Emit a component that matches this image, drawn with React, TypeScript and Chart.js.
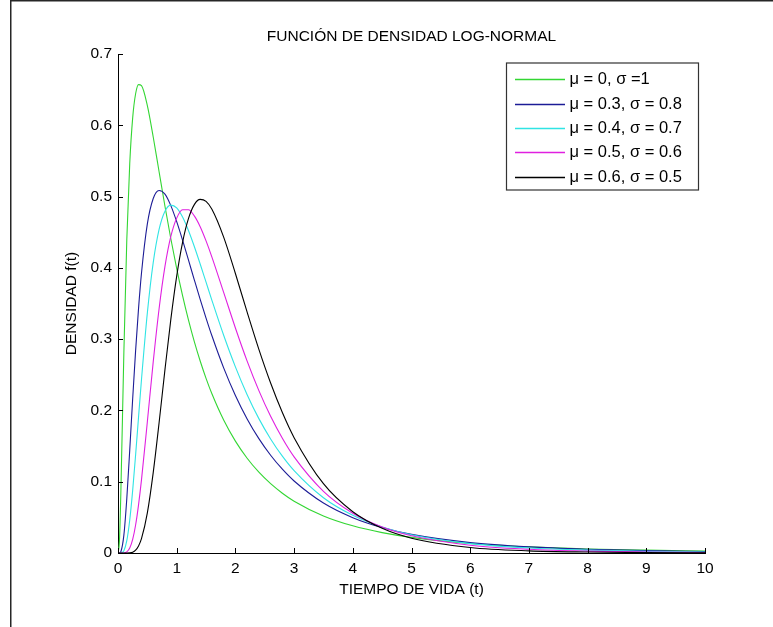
import React, { useEffect, useRef } from "react";
import { Chart, registerables } from "chart.js";

Chart.register(...registerables);

// ---- Data ----
const T = [0, 0.025, 0.05, 0.1, 0.15, 0.2, 0.25, 0.3, 0.35, 0.4, 0.5, 0.6, 0.7, 0.8, 0.9, 1.0, 1.1, 1.2, 1.3, 1.4, 1.5, 1.6, 1.8, 2.0, 2.2, 2.4, 2.6, 2.8, 3.0, 3.5, 4, 4.5, 5, 6, 7, 8, 9, 10];

const MU0_S10 = [0, 0.0177, 0.0898, 0.2816, 0.4399, 0.5464, 0.6104, 0.6442, 0.6570, 0.6555, 0.6276, 0.5836, 0.5348, 0.4864, 0.4408, 0.3989, 0.3610, 0.3270, 0.2965, 0.2693, 0.2450, 0.2233, 0.1865, 0.1569, 0.1329, 0.1133, 0.0972, 0.0839, 0.0727, 0.0520, 0.0381, 0.0286, 0.0219, 0.0134, 0.0086, 0.0057, 0.0040, 0.0028];
const MU03_S08 = [0, 0, 0.0021, 0.0251, 0.0765, 0.1445, 0.2163, 0.2839, 0.3432, 0.3925, 0.4616, 0.4973, 0.5086, 0.5034, 0.4873, 0.4648, 0.4388, 0.4111, 0.3832, 0.3558, 0.3296, 0.3047, 0.2597, 0.2210, 0.1881, 0.1604, 0.1371, 0.1175, 0.1010, 0.0701, 0.0496, 0.0357, 0.0261, 0.0146, 0.0086, 0.0053, 0.0033, 0.0022];
const MU04_S07 = [0, 0, 0.0001, 0.0033, 0.0174, 0.0463, 0.0879, 0.1376, 0.1907, 0.2432, 0.3368, 0.4074, 0.4539, 0.4794, 0.4880, 0.4841, 0.4713, 0.4525, 0.4300, 0.4054, 0.3799, 0.3544, 0.3054, 0.2611, 0.2221, 0.1885, 0.1600, 0.1358, 0.1155, 0.0775, 0.0528, 0.0365, 0.0256, 0.0132, 0.0071, 0.0040, 0.0023, 0.0014];
const MU05_S06 = [0, 0, 0, 0.0001, 0.0015, 0.0069, 0.0190, 0.0393, 0.0676, 0.1025, 0.1842, 0.2681, 0.3427, 0.4020, 0.4441, 0.4698, 0.4815, 0.4816, 0.4729, 0.4577, 0.4378, 0.4151, 0.3655, 0.3157, 0.2692, 0.2278, 0.1917, 0.1609, 0.1348, 0.0865, 0.0558, 0.0364, 0.0241, 0.0109, 0.0052, 0.0026, 0.0014, 0.0007];
const MU06_S05 = [0, 0, 0, 0, 0, 0.0002, 0.0012, 0.0040, 0.0099, 0.0201, 0.0563, 0.1128, 0.1827, 0.2573, 0.3277, 0.3884, 0.4358, 0.4690, 0.4887, 0.4960, 0.4932, 0.4821, 0.4431, 0.3921, 0.3378, 0.2856, 0.2384, 0.1970, 0.1618, 0.0972, 0.0579, 0.0346, 0.0208, 0.0078, 0.0030, 0.0013, 0.0005, 0.0002];

const SERIES = [MU0_S10, MU03_S08, MU04_S07, MU05_S06, MU06_S05];
const LABELS = ["\u03bc = 0, \u03c3 =1", "\u03bc = 0.3, \u03c3 = 0.8", "\u03bc = 0.4, \u03c3 = 0.7", "\u03bc = 0.5, \u03c3 = 0.6", "\u03bc = 0.6, \u03c3 = 0.5"];
const COLORS = ["#33d633", "#1c1c96", "#30e4e4", "#e020e0", "#000000"];

const TITLE = "FUNCIÓN DE DENSIDAD LOG-NORMAL";
const X_TITLE = "TIEMPO DE VIDA (t)";
const Y_TITLE = "DENSIDAD f(t)";
const X_MIN = 0, X_MAX = 10, X_STEP = 1;
const Y_MIN = 0, Y_MAX = 0.7, Y_STEP = 0.1;

const FONT = 'Arial, "Liberation Sans", Helvetica, sans-serif';
const FS = 15.5;
const LEGEND_FS = 16.5;
const W = 773, H = 627;

const framePlugin = {
  id: "frame",
  beforeDraw(chart: any) {
    const ctx = chart.ctx;
    ctx.save();
    ctx.fillStyle = "#ffffff";
    ctx.fillRect(0, 0, chart.width, chart.height);
    ctx.strokeStyle = "#262626";
    ctx.lineWidth = 1.5;
    ctx.beginPath();
    ctx.moveTo(10.75, chart.height);
    ctx.lineTo(10.75, 0.75);
    ctx.lineTo(chart.width, 0.75);
    ctx.stroke();
    ctx.restore();
  },
};

const innerTicksPlugin = {
  id: "innerTicks",
  afterDatasetsDraw(chart: any) {
    const ctx = chart.ctx;
    const { left, bottom } = chart.chartArea;
    const xs = chart.scales.x;
    const ys = chart.scales.y;
    ctx.save();
    ctx.strokeStyle = "#000";
    ctx.lineWidth = 1;
    ctx.beginPath();
    ys.ticks.forEach((_t: any, i: number) => {
      const y = Math.round(ys.getPixelForTick(i)) + 0.5;
      ctx.moveTo(left, y);
      ctx.lineTo(left + 5, y);
    });
    xs.ticks.forEach((_t: any, i: number) => {
      const x = Math.round(xs.getPixelForTick(i)) + 0.5;
      ctx.moveTo(x, bottom);
      ctx.lineTo(x, bottom - 5);
    });
    ctx.stroke();
    ctx.restore();
  },
};

const titlePlugin = {
  id: "plotTitle",
  afterDraw(chart: any) {
    const ctx = chart.ctx;
    const { left, right } = chart.chartArea;
    ctx.save();
    ctx.fillStyle = "#000";
    ctx.font = `${FS}px ${FONT}`;
    ctx.textAlign = "center";
    ctx.textBaseline = "middle";
    ctx.fillText(TITLE, (left + right) / 2, 37);
    ctx.restore();
  },
};

const boxLegendPlugin = {
  id: "boxLegend",
  afterDraw(chart: any) {
    const ctx = chart.ctx;
    const { right, top } = chart.chartArea;
    const bx = right - 199;
    const by = top + 8.5;
    const bw = 192;
    const bh = 127;
    ctx.save();
    ctx.fillStyle = "#ffffff";
    ctx.fillRect(bx, by, bw, bh);
    ctx.strokeStyle = "#333";
    ctx.lineWidth = 1.2;
    ctx.strokeRect(bx + 0.5, by + 0.5, bw, bh);
    ctx.font = `${LEGEND_FS}px ${FONT}`;
    ctx.textBaseline = "middle";
    ctx.textAlign = "left";
    chart.data.datasets.forEach((ds: any, i: number) => {
      const y = by + 16.8 + i * 24.35;
      ctx.strokeStyle = ds.borderColor;
      ctx.lineWidth = 1.5;
      ctx.beginPath();
      ctx.moveTo(bx + 9, Math.round(y) + 0.5);
      ctx.lineTo(bx + 59, Math.round(y) + 0.5);
      ctx.stroke();
      ctx.fillStyle = "#000";
      ctx.fillText(ds.label, bx + 63.5, y + 0.5);
    });
    ctx.restore();
  },
};

export default function App() {
  const ref = useRef<HTMLCanvasElement | null>(null);

  useEffect(() => {
    document.body.style.margin = "0";
    if (!ref.current) return;
    const datasets = SERIES.map((vals, i) => ({
      label: LABELS[i],
      data: T.map((t, j) => ({ x: t, y: vals[j] })),
      borderColor: COLORS[i],
      backgroundColor: COLORS[i],
      borderWidth: 1.1,
      pointRadius: 0,
      fill: false,
      cubicInterpolationMode: "monotone" as const,
      order: SERIES.length - i,
    }));

    const chart = new Chart(ref.current, {
      type: "line",
      data: { datasets },
      options: {
        animation: false,
        responsive: false,
        maintainAspectRatio: false,
        layout: { padding: { left: 0, right: 68, top: 54, bottom: 0 } },
        plugins: {
          legend: { display: false },
          title: { display: false },
          tooltip: { enabled: false },
        },
        scales: {
          x: {
            type: "linear",
            min: X_MIN,
            max: X_MAX,
            grid: { display: false, drawTicks: false },
            border: { display: true, color: "#000", width: 1 },
            ticks: {
              stepSize: X_STEP,
              padding: 6,
              color: "#000",
              font: { family: FONT, size: FS },
              callback: (v: any) => String(v),
            },
            title: {
              display: true,
              text: X_TITLE,
              color: "#000",
              font: { family: FONT, size: FS },
              padding: { top: 0, bottom: 27.7 },
            },
            afterFit: (s: any) => {
              s.height = 74;
            },
          },
          y: {
            type: "linear",
            min: Y_MIN,
            max: Y_MAX,
            grid: { display: false, drawTicks: false },
            border: { display: true, color: "#000", width: 1 },
            ticks: {
              stepSize: Y_STEP,
              padding: 6,
              color: "#000",
              font: { family: FONT, size: FS },
              callback: (v: any) => (Math.abs(v) < 1e-9 ? "0" : Number(v).toFixed(1)),
            },
            title: {
              display: true,
              text: Y_TITLE,
              color: "#000",
              font: { family: FONT, size: FS },
              padding: { top: 62.4, bottom: 0 },
            },
            afterFit: (s: any) => {
              s.width = 118;
            },
          },
        },
      },
      plugins: [framePlugin, innerTicksPlugin, titlePlugin, boxLegendPlugin],
    });
    return () => chart.destroy();
  }, []);

  return (
    <div style={{ position: "absolute", left: 0, top: 0, width: W, height: H }}>
      <canvas ref={ref} width={W} height={H} style={{ display: "block", width: W, height: H }} />
    </div>
  );
}
